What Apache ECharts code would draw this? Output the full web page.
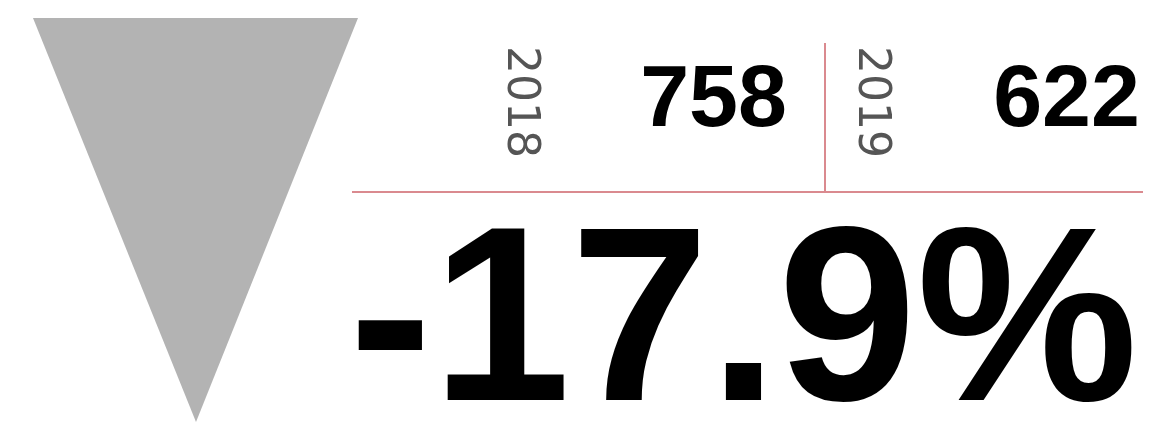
<!DOCTYPE html>
<html>
<head>
<meta charset="utf-8">
<script src="https://cdn.jsdelivr.net/npm/echarts@6/dist/echarts.min.js"></script>
<style>
html,body{margin:0;padding:0;background:#fff;}
#main{width:1173px;height:436px;}
</style>
</head>
<body>
<div id="main"></div>
<script>
// Data
const years = ['2018', '2019'];
const values = [758, 622];

const change = (values[1] - values[0]) / values[0] * 100;
const changeLabel = (change > 0 ? '+' : '-') + Math.abs(change).toFixed(1) + '%';

const chart = echarts.init(document.getElementById('main'), null, {renderer: 'canvas'});
const FONT = '"Liberation Sans", Arial, sans-serif';
const YEAR_FONT = '"DejaVu Sans", sans-serif';
const lineColor = '#da8a8f';

const yearX = [519, 870];
const valueRight = [787, 1140];

const graphics = [
  {type: 'polygon', shape: {points: [[33, 18], [358, 18], [196, 422]]}, style: {fill: '#b3b3b3'}},
  {type: 'line', shape: {x1: 352, y1: 192, x2: 1143, y2: 192}, style: {stroke: lineColor, lineWidth: 2}},
  {type: 'line', shape: {x1: 825, y1: 43, x2: 825, y2: 192}, style: {stroke: lineColor, lineWidth: 2}},
  {type: 'text', x: 349, y: 331, style: {text: changeLabel, font: 'bold 249px ' + FONT, fill: '#000', textAlign: 'left', textVerticalAlign: 'middle'}}
];
years.forEach((y, i) => {
  graphics.push({type: 'text', x: yearX[i], y: 102, rotation: -Math.PI / 2,
    style: {text: y, font: '44px ' + YEAR_FONT, fill: '#555', textAlign: 'center', textVerticalAlign: 'middle'}});
  graphics.push({type: 'text', x: valueRight[i], y: 102,
    style: {text: String(values[i]), font: 'bold 88px ' + FONT, fill: '#000', textAlign: 'right', textVerticalAlign: 'middle'}});
});

chart.setOption({animation: false, graphic: graphics});
</script>
</body>
</html>
